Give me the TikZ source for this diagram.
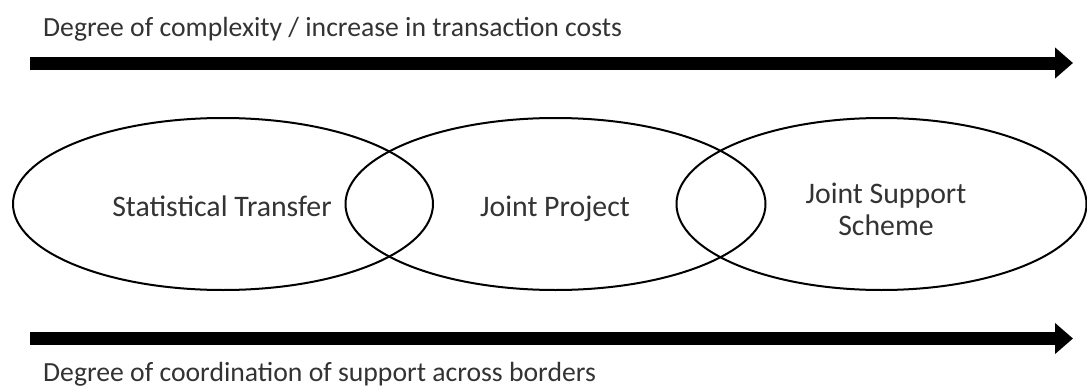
\documentclass[tikz,border=0pt]{standalone}
\usepackage{fontspec}
\setmainfont{Carlito}
\usetikzlibrary{arrows.meta,shapes.geometric}
\begin{document}
\begin{tikzpicture}[x=1pt,y=-1pt,
  oval/.style={draw=black,line width=2pt,ellipse,minimum width=420pt,minimum height=172pt,inner sep=0pt},
  bigarrow/.style={line width=13pt,-{Triangle[length=18pt,width=30pt]}},
  lbl/.style={text=black!80,font=\fontsize{27.7}{30}\selectfont,inner sep=0pt},
  inlbl/.style={text=black!80,font=\fontsize{29.8}{32}\selectfont,inner sep=0pt,align=center}]
\useasboundingbox (0,0) rectangle (1087,388);
\node[oval] (e1) at (223,204) {};
\node[oval] (e2) at (555.5,204) {};
\node[oval,minimum width=410pt] (e3) at (881.5,204) {};
\node[inlbl,anchor=base] (t1) at (222,216) {Statistical Transfer};
\node[inlbl,anchor=base] (t2) at (555,216) {Joint Project};
\node[inlbl,anchor=base] (t3) at (886,235) {Joint Support\\Scheme};
\coordinate (a1s) at (30,63);
\coordinate (a1e) at (1073,63);
\coordinate (a2s) at (30,338.5);
\coordinate (a2e) at (1073,338.5);
\draw[bigarrow] (a1s) -- (a1e);
\draw[bigarrow] (a2s) -- (a2e);
\node[lbl,anchor=base west] (top) at (43,36) {Degree of complexity / increase in transaction costs};
\node[lbl,anchor=base west] (bot) at (43,381) {Degree of coordination of support across borders};
\end{tikzpicture}
\end{document}
